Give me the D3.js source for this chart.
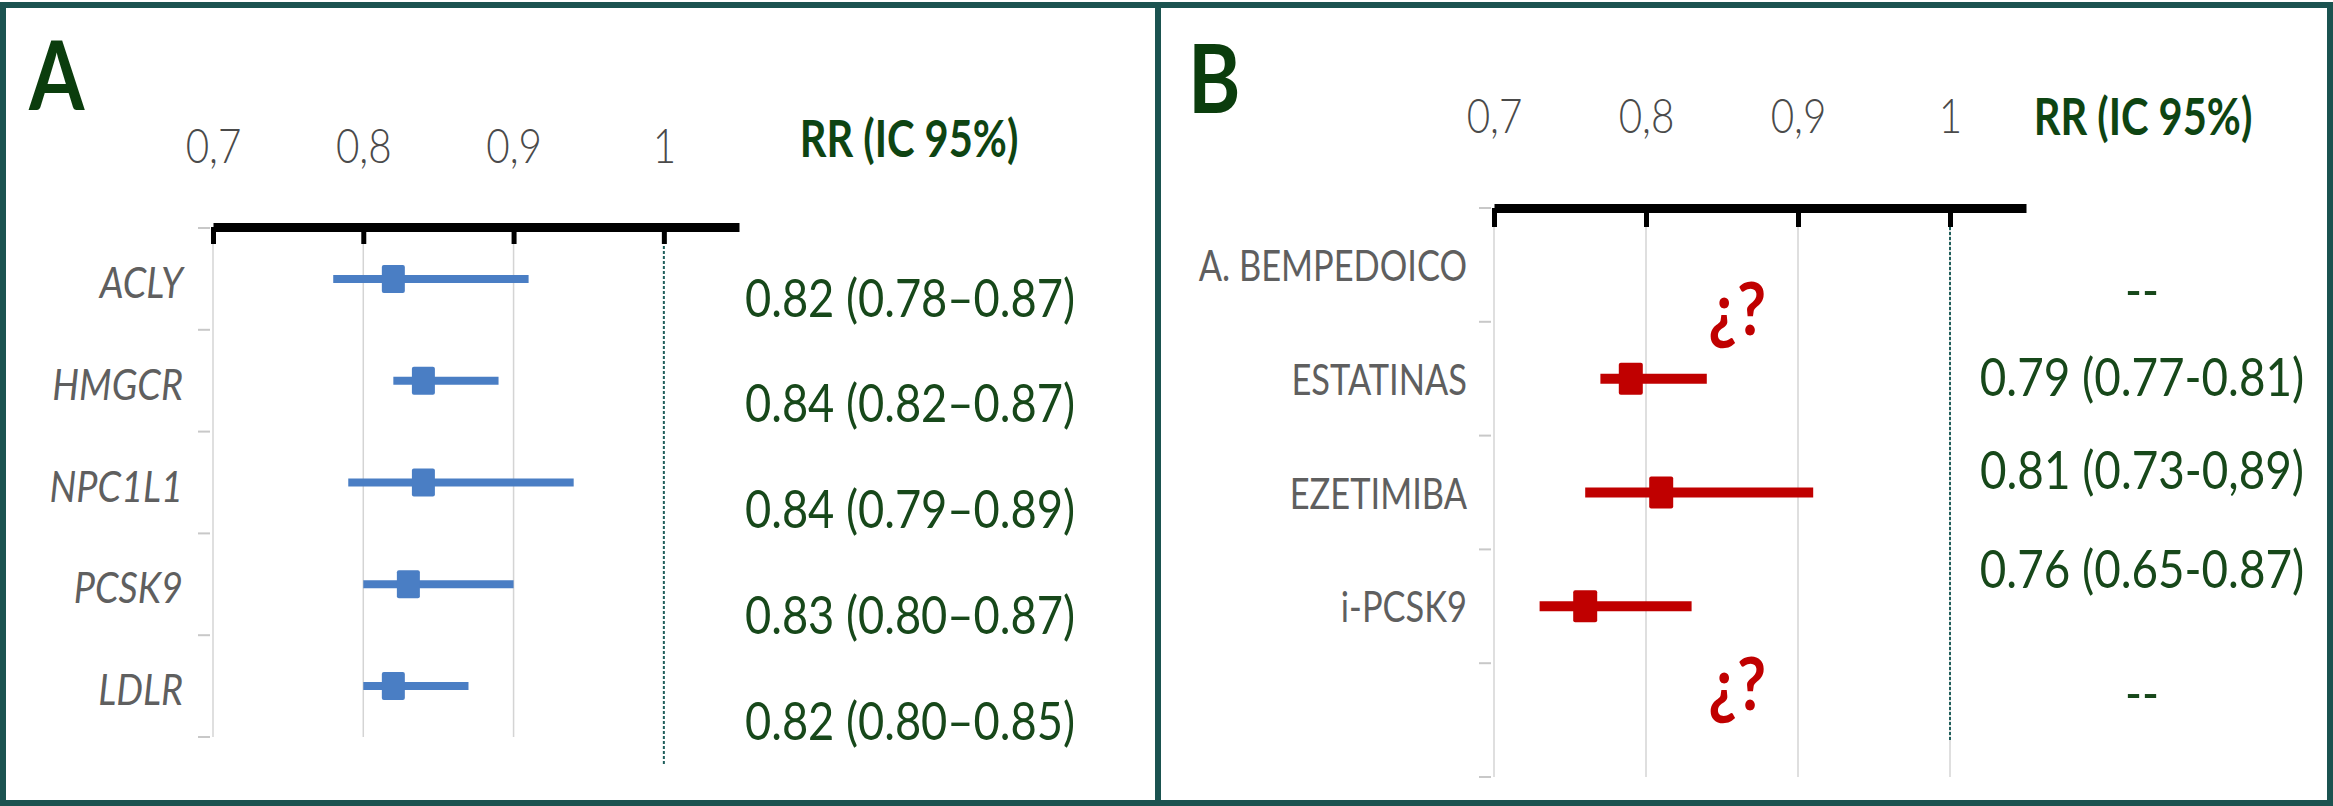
<!DOCTYPE html>
<meta charset="utf-8">
<title>RR forest plots</title>
<style>
body {
  margin: 0;
  padding: 0;
  background: #fff;
}
svg text {
  font-family: 'Lato', 'Open Sans', sans-serif;
}
.grid line {
  stroke: #d4d4d4;
  stroke-width: 1.5;
}
.axis .domain {
  stroke: #000;
  stroke-width: 9;
}
.axis .tick line {
  stroke: #000;
  stroke-width: 5;
}
.axis .tick text {
  fill: #4a4a4a;
  font-size: 47px;
  font-weight: 300;
}
</style>
<body>
<svg width="2333" height="806"></svg>
</body>
<script src="https://d3js.org/d3.v7.min.js"></script>
<script>
// ---- data, panel A (genes) ----
var genesA  = ["ACLY", "HMGCR", "NPC1L1", "PCSK9", "LDLR"];
var rrA     = [0.82, 0.84, 0.84, 0.83, 0.82];
var loA     = [0.78, 0.82, 0.79, 0.80, 0.80];
var hiA     = [0.91, 0.89, 0.94, 0.90, 0.87];
var textA   = ["0.82 (0.78–0.87)", "0.84 (0.82–0.87)", "0.84 (0.79–0.89)", "0.83 (0.80–0.87)", "0.82 (0.80–0.85)"];

// ---- data, panel B (drugs) ----
var drugsB  = ["A. BEMPEDOICO", "ESTATINAS", "EZETIMIBA", "i-PCSK9", ""];
var rrB     = [null, 0.79, 0.81, 0.76, null];
var loB     = [null, 0.77, 0.76, 0.73, null];
var hiB     = [null, 0.84, 0.91, 0.83, null];
var textB   = ["--", "0.79 (0.77-0.81)", "0.81 (0.73-0,89)", "0.76 (0.65-0.87)", "--"];

var tickValues = [0.7, 0.8, 0.9, 1];
var tickLabels = ["0,7", "0,8", "0,9", "1"];
var header = "RR (IC 95%)";

var CAP = 0.7165;   // Lato cap height / em
var SX = 0.86;      // horizontal squeeze to mimic the narrow font

var svg = d3.select("svg");
svg.append("rect").attr("width", 2333).attr("height", 806).attr("fill", "#fff");

// text helper: place by cap-centre, squeeze horizontally
function txt(g, str, x, yc, size, o) {
  o = o || {};
  var t = g.append("text")
    .attr("transform", "translate(" + x + "," + (yc + size * CAP / 2) + ") scale(" + (o.sx || SX) + ",1)")
    .attr("font-size", size + "px")
    .attr("text-anchor", o.anchor || "middle")
    .attr("fill", o.fill || "#1a4f1a")
    .text(str);
  if (o.bold) t.attr("font-weight", "bold");
  if (o.weight) t.attr("font-weight", o.weight);
  if (o.italic) t.attr("font-style", "italic");
  return t;
}

function panel(p) {
  var g = svg.append("g");
  var x = d3.scaleLinear().domain([0.7, 1.05]).range(p.xr);
  var y = d3.scaleBand().domain(d3.range(p.cats.length)).range(p.yr);

  // panel letter + header
  txt(g, p.letter, p.letterX, p.letterY, 95, {anchor: "start", bold: true, fill: "#0b3d0d", sx: 0.84});
  txt(g, header, p.headX, p.headY, 52, {bold: true, fill: "#0e4412", sx: 0.8});

  // gridlines
  g.append("g").attr("class", "grid")
    .selectAll("line").data(p.gridVals).enter().append("line")
      .attr("x1", d => x(d)).attr("x2", d => x(d))
      .attr("y1", p.axisY).attr("y2", p.yr[1]);

  // reference line at 1
  g.append("line")
    .attr("x1", x(1)).attr("x2", x(1))
    .attr("y1", p.axisY + 4).attr("y2", p.refEnd)
    .attr("stroke", "#1f5f5c").attr("stroke-width", 2)
    .attr("stroke-dasharray", "3,2");

  // small band separators on the left
  g.append("g").selectAll("line")
    .data(d3.range(p.cats.length + 1)).enter().append("line")
      .attr("x1", x(0.7) - 15).attr("x2", x(0.7) - 3)
      .attr("y1", d => p.yr[0] + d * y.bandwidth())
      .attr("y2", d => p.yr[0] + d * y.bandwidth())
      .attr("stroke", "#c8c8c8").attr("stroke-width", 2);
  g.append("line")
    .attr("x1", x(0.7)).attr("x2", x(0.7))
    .attr("y1", p.axisY).attr("y2", p.yr[1])
    .attr("stroke", "#d4d4d4").attr("stroke-width", 1.5);

  // top axis
  var ax = g.append("g").attr("class", "axis")
    .attr("transform", "translate(0," + p.axisY + ")")
    .call(d3.axisBottom(x).tickValues(tickValues).tickSize(p.tickLen).tickSizeOuter(0)
      .tickFormat((d, i) => tickLabels[i]));
  ax.selectAll(".tick text")
    .attr("y", 0).attr("dy", 0)
    .attr("transform", "translate(0," + (-p.labelLift) + ") scale(" + SX + ",1)");

  // category labels
  p.cats.forEach(function(c, i) {
    txt(g, c, p.catX, y(i) + y.bandwidth() / 2 + p.catDy, 42,
        {anchor: "end", fill: "#5f5f5f", italic: p.italic, sx: p.catSx});
  });

  // error bars + markers
  var rows = d3.range(p.cats.length).filter(i => p.rr[i] != null);
  var cy = i => y(i) + y.bandwidth() / 2;
  g.selectAll(".ci").data(rows).enter().append("line")
    .attr("x1", i => x(p.lo[i])).attr("x2", i => x(p.hi[i]))
    .attr("y1", cy).attr("y2", cy)
    .attr("stroke", p.color).attr("stroke-width", p.lineW);
  g.selectAll(".pt").data(rows).enter().append("rect")
    .attr("x", i => x(p.rr[i]) - p.mw / 2)
    .attr("y", i => cy(i) - p.mh / 2)
    .attr("width", p.mw).attr("height", p.mh)
    .attr("rx", 2)
    .attr("fill", p.color);

  // question marks where no estimate exists
  d3.range(p.cats.length).filter(i => p.rr[i] == null && p.qDy).forEach(function(i) {
    txt(g, "¿?", x(0.86), cy(i) + p.qDy[i], 72, {bold: true, fill: "#c00000", sx: 0.88});
  });

  // RR text column
  p.text.forEach(function(s, i) {
    txt(g, s, p.valX, p.valY(i), 52, {fill: "#17481a", sx: p.valSx});
  });
}

// left panel
var valScaleA = d3.scalePoint().domain(d3.range(genesA.length)).range([298, 721]);
panel({
  letter: "A", letterX: 29, letterY: 76,
  headX: 909, headY: 138,
  cats: genesA, rr: rrA, lo: loA, hi: hiA, text: textA,
  xr: [213, 739], yr: [228, 737], axisY: 227, tickLen: 17, labelLift: 64,
  gridVals: [0.8, 0.9], refEnd: 765,
  catX: 183, catDy: 4, italic: true, catSx: 0.9,
  color: "#4a7ec4", lineW: 8, mw: 23, mh: 28,
  valX: 910, valY: i => valScaleA(i), valSx: 0.87
});

// right panel
var valNudgeB = [25, -1, -22, -37, -27];
var qNudgeB = [44, 0, 0, 0, -36];
var bandB = d3.scaleBand().domain(d3.range(drugsB.length)).range([208, 777]);
panel({
  letter: "B", letterX: 1188, letterY: 79,
  headX: 2143, headY: 116,
  cats: drugsB, rr: rrB, lo: loB, hi: hiB, text: textB,
  xr: [1494, 2026], yr: [208, 777], axisY: 208, tickLen: 19, labelLift: 75,
  gridVals: [0.8, 0.9, 1], refEnd: 742,
  catX: 1467, catDy: 1, italic: false, catSx: 0.82,
  color: "#c00000", lineW: 10, mw: 24, mh: 32, qDy: qNudgeB,
  valX: 2142, valY: i => bandB(i) + bandB.bandwidth() / 2 + valNudgeB[i], valSx: 0.88
});

// outer frame and divider
svg.append("rect")
  .attr("x", 3).attr("y", 5).attr("width", 2327).attr("height", 798)
  .attr("fill", "none").attr("stroke", "#1b5350").attr("stroke-width", 6);
svg.append("line")
  .attr("x1", 1158).attr("x2", 1158).attr("y1", 5).attr("y2", 803)
  .attr("stroke", "#1b5350").attr("stroke-width", 6);
</script>
